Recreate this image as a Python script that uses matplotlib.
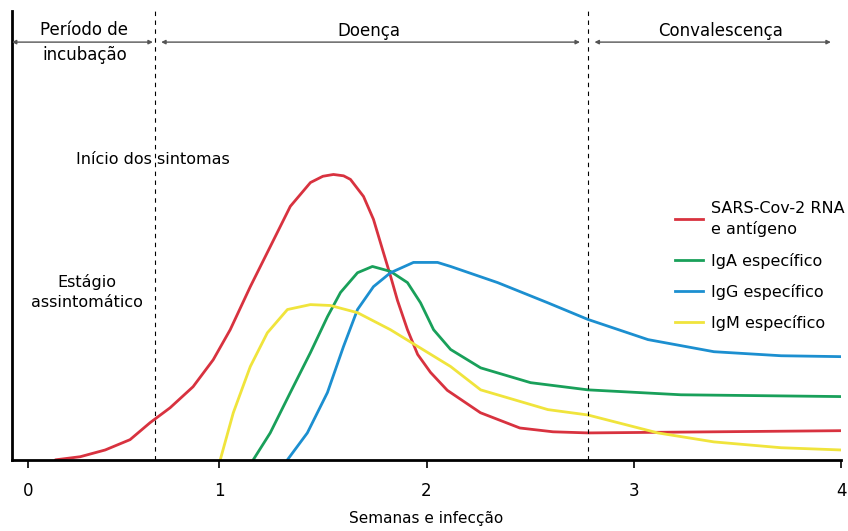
import matplotlib.pyplot as plt
from matplotlib.lines import Line2D

# weeks after infection (x) and relative level (y, 0-100)
rna_x = [0.21, 0.33, 0.45, 0.57, 0.667, 0.763, 0.874, 0.971, 1.053, 1.150, 1.246, 1.343, 1.440, 1.50, 1.551, 1.60,
         1.633, 1.696, 1.744, 1.792, 1.826, 1.860, 1.908, 1.957, 2.019, 2.10, 2.26, 2.45, 2.61, 2.78, 3.39, 4.0]
rna_y = [0.0, 0.7, 2.2, 4.5, 8.3, 11.6, 16.3, 22.3, 29.0, 38.6, 47.5, 56.5, 61.8, 63.2, 63.6, 63.3,
         62.5, 58.7, 53.6, 46.2, 41.0, 35.5, 29.0, 23.5, 19.5, 15.5, 10.5, 7.1, 6.25, 6.0, 6.25, 6.5]

iga_x = [1.164, 1.246, 1.343, 1.440, 1.522, 1.585, 1.667, 1.739, 1.826, 1.908, 1.971, 2.034, 2.116,
         2.261, 2.502, 2.778, 3.227, 4.0]
iga_y = [0.0, 6.0, 15.0, 23.9, 31.9, 37.3, 41.7, 43.1, 42.0, 39.5, 35.0, 29.0, 24.6,
         20.5, 17.2, 15.6, 14.5, 14.1]

igg_x = [1.329, 1.425, 1.522, 1.599, 1.667, 1.744, 1.826, 1.937, 2.053, 2.116, 2.343, 2.585, 2.778,
         3.068, 3.386, 3.71, 4.0]
igg_y = [0.0, 6.0, 15.0, 25.2, 33.5, 38.6, 41.7, 44.0, 44.0, 43.1, 39.5, 35.0, 31.3,
         26.8, 24.1, 23.2, 23.0]

igm_x = [1.005, 1.068, 1.150, 1.232, 1.329, 1.440, 1.536, 1.667, 1.826, 1.971, 2.116, 2.261, 2.585,
         2.778, 3.116, 3.386, 3.71, 4.0]
igm_y = [0.0, 10.5, 20.8, 28.3, 33.5, 34.6, 34.4, 32.8, 29.0, 24.9, 20.8, 15.6, 11.2,
         10.0, 6.0, 4.0, 2.7, 2.2]

labels = ['SARS-Cov-2 RNA\ne antígeno', 'IgA específico', 'IgG específico', 'IgM específico']
colors = ['#d8323f', '#19a05a', '#1c8fd0', '#f0e43c']

phase_bounds = [0.69, 2.78]
tick_labels = ['0', '1', '2', '3', '4']

fig = plt.figure(figsize=(8.48, 5.31), dpi=100)
ax = fig.add_axes([0.014, 0.134, 0.978, 0.845])

for xs, ys, c in zip([rna_x, iga_x, igg_x, igm_x], [rna_y, iga_y, igg_y, igm_y], colors):
    ax.plot(xs, ys, color=c, lw=2, solid_capstyle='round', solid_joinstyle='round')

for b in phase_bounds:
    ax.axvline(b, color='black', lw=0.8, ls=(0, (4, 4)))

ax.set_xlim(0, 4.0)
ax.set_ylim(0, 100)
ax.set_xticks([0.08, 1, 2, 3, 4])
ax.set_xticklabels(tick_labels, fontsize=12)
ax.tick_params(axis='x', direction='out', length=6, width=1.2, pad=10)
ax.set_yticks([])
ax.set_xlabel('Semanas e infecção', fontsize=11, labelpad=8)
for s in ['top', 'right']:
    ax.spines[s].set_visible(False)
ax.spines['left'].set_linewidth(2)
ax.spines['bottom'].set_linewidth(2)

# phase arrows
arrow_y = 93.1
aprops = dict(arrowstyle='<|-|>', color='#555555', lw=1, mutation_scale=6, shrinkA=0, shrinkB=0)
ax.annotate('', xy=(0.0, arrow_y), xytext=(0.68, arrow_y), arrowprops=aprops)
ax.annotate('', xy=(0.72, arrow_y), xytext=(2.74, arrow_y), arrowprops=aprops)
ax.annotate('', xy=(2.81, arrow_y), xytext=(3.95, arrow_y), arrowprops=aprops)

ax.text(0.35, 93.0, 'Período de\nincubação', ha='center', va='center', fontsize=12, linespacing=1.45)
ax.text(1.72, 95.5, 'Doença', ha='center', va='center', fontsize=12)
ax.text(3.42, 95.5, 'Convalescença', ha='center', va='center', fontsize=12)

ax.text(0.68, 67, 'Início dos sintomas', ha='center', va='center', fontsize=11.5)
ax.text(0.36, 37.4, 'Estágio\nassintomático', ha='center', va='center', fontsize=11.5, linespacing=1.35)

handles = [Line2D([0], [0], color=c, lw=2) for c in colors]
leg = ax.legend(handles, labels, loc='upper left', bbox_to_anchor=(0.782, 0.61), frameon=False,
                fontsize=11.5, handlelength=1.75, handletextpad=0.5, labelspacing=0.95)
leg.get_texts()[0].set_linespacing(1.45)

plt.savefig('out.png', dpi=100)
